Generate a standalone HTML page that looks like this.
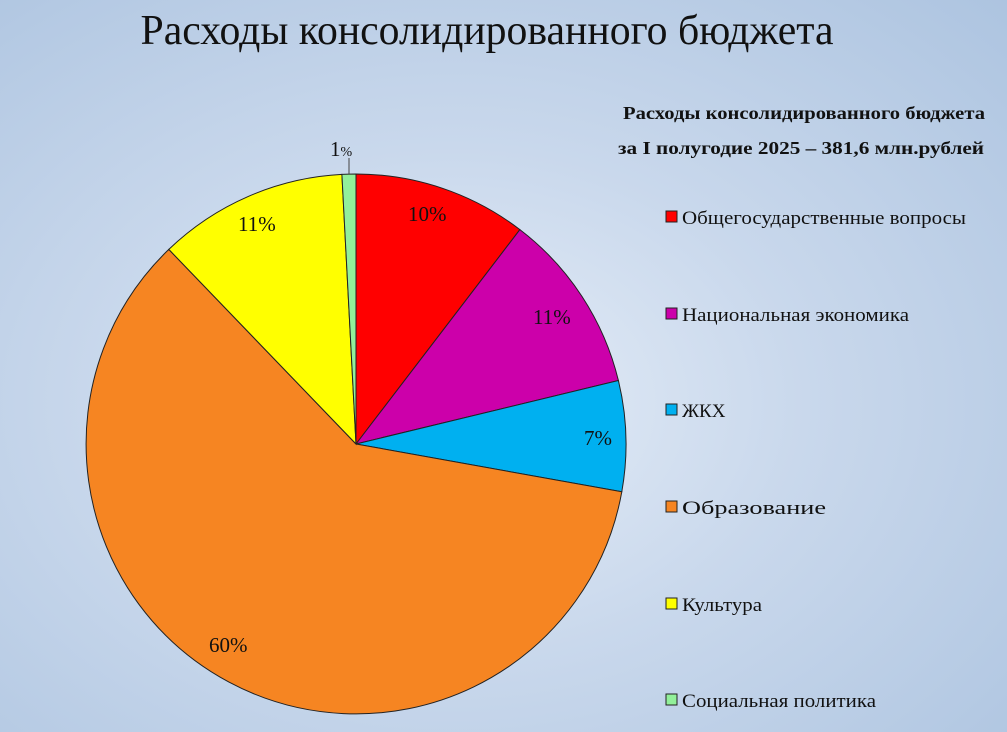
<!DOCTYPE html>
<html><head><meta charset="utf-8"><style>
html,body{margin:0;padding:0;}
body{width:1007px;height:732px;overflow:hidden;background:radial-gradient(ellipse at 45% 55%,#e6eef8 0%,#c9d8ec 45%,#adc4e0 100%);}
svg{display:block;font-family:"Liberation Serif",serif;}
</style></head><body>
<svg width="1007" height="732" viewBox="0 0 1007 732">
<text x="487" y="44" font-size="42" text-anchor="middle" fill="#111" textLength="693" lengthAdjust="spacingAndGlyphs">Расходы консолидированного бюджета</text>
<g stroke="#222" stroke-width="1">
<path d="M356,444 L356,174 A270,270 0 0 1 519.9,229.6 Z" fill="#ff0000"/>
<path d="M356,444 L519.9,229.6 A270,270 0 0 1 618.4,380.5 Z" fill="#cc00aa"/>
<path d="M356,444 L618.4,380.5 A270,270 0 0 1 621.8,491.8 Z" fill="#00b0f0"/>
<path d="M356,444 L621.8,491.8 A270,270 0 1 1 168.8,249.4 Z" fill="#f68522"/>
<path d="M356,444 L168.8,249.4 A270,270 0 0 1 341.9,174.4 Z" fill="#ffff00"/>
<path d="M356,444 L341.9,174.4 A270,270 0 0 1 356,174 Z" fill="#92f09a"/>
</g>
<line x1="349" y1="174" x2="349" y2="158" stroke="#444" stroke-width="1"/>
<g font-size="21" fill="#111">
<text x="408" y="221">10%</text>
<text x="533" y="324">11%</text>
<text x="584" y="445">7%</text>
<text x="209" y="652">60%</text>
<text x="238" y="231">11%</text>
<text x="330" y="156">1<tspan font-size="14">%</tspan></text>
</g>
<g font-size="18" font-weight="bold" fill="#111" text-anchor="middle">
<text x="804" y="119" textLength="362" lengthAdjust="spacingAndGlyphs">Расходы консолидированного бюджета</text>
<text x="801" y="154" textLength="366" lengthAdjust="spacingAndGlyphs">за I полугодие 2025 – 381,6 млн.рублей</text>
</g>
<g font-size="19" fill="#111">
<rect x="666" y="211" width="11" height="11" fill="#ff0000" stroke="#222"/><text x="682" y="224" textLength="284" lengthAdjust="spacingAndGlyphs">Общегосударственные вопросы</text>
<rect x="666" y="308" width="11" height="11" fill="#cc00aa" stroke="#222"/><text x="682" y="321" textLength="227" lengthAdjust="spacingAndGlyphs">Национальная экономика</text>
<rect x="666" y="404" width="11" height="11" fill="#00b0f0" stroke="#222"/><text x="682" y="417">ЖКХ</text>
<rect x="666" y="501" width="11" height="11" fill="#f68522" stroke="#222"/><text x="682" y="514" textLength="144" lengthAdjust="spacingAndGlyphs">Образование</text>
<rect x="666" y="598" width="11" height="11" fill="#ffff00" stroke="#222"/><text x="682" y="611" textLength="80" lengthAdjust="spacingAndGlyphs">Культура</text>
<rect x="666" y="694" width="11" height="11" fill="#92f09a" stroke="#222"/><text x="682" y="707" textLength="194" lengthAdjust="spacingAndGlyphs">Социальная политика</text>
</g>
</svg>
</body></html>
